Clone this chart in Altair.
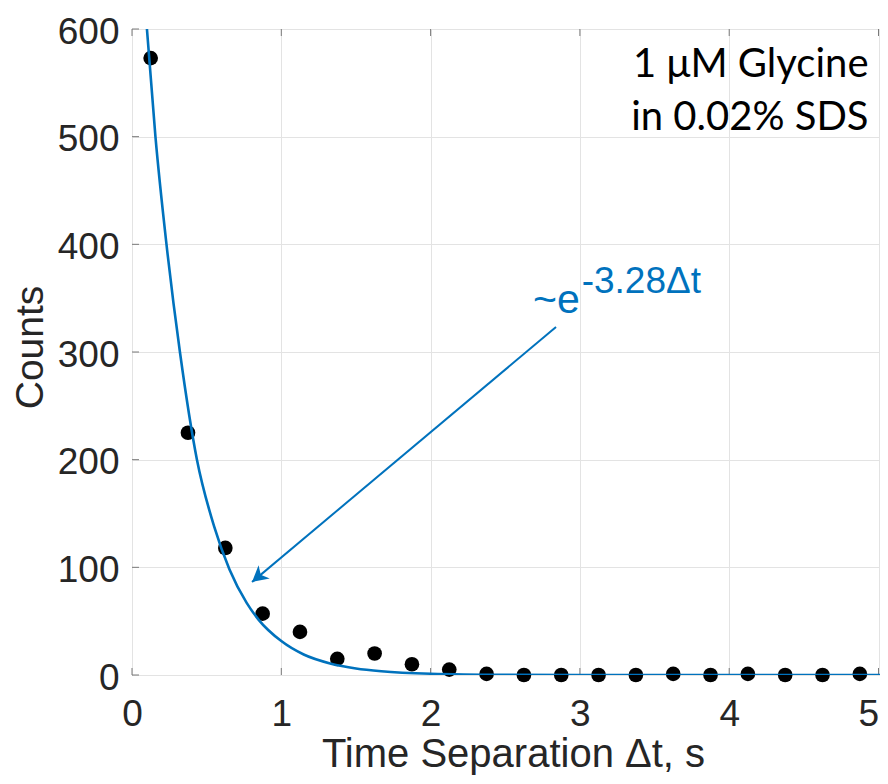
import altair as alt
import pandas as pd

# ---- data ----
bin_centers = [0.125, 0.375, 0.625, 0.875, 1.125, 1.375, 1.625, 1.875, 2.125, 2.375,
               2.625, 2.875, 3.125, 3.375, 3.625, 3.875, 4.125, 4.375, 4.625, 4.875]
counts = [573, 225, 118, 57, 40, 15, 20, 10, 5, 1, 0, 0, 0, 0, 1, 0, 1, 0, 0, 1]

# fitted curve (~e^-3.28 dt)
fit_x = [0.100, 0.157, 0.231, 0.321, 0.435, 0.55, 0.653, 0.768, 0.85, 1.0,
         1.15, 1.333, 1.5, 1.67, 2.0, 2.5, 3.0, 4.0, 5.1]
fit_y = [600, 500, 400, 300, 200, 138, 98, 67, 51, 31.5,
         19, 10.5, 6.1, 3.5, 1.2, 0.2, 0, 0, 0]

# arrow from the label to the curve
arrow_x = [2.840, 0.804]
arrow_y = [323.2, 86.4]

# annotation texts
box_lines = ["1 μM Glycine", "in 0.02% SDS"]
box_x = [4.933, 4.933]
box_y = [555.4, 506.0]

fit_main = "~e"
fit_sup = "-3.28Δt"
fit_main_xy = (2.999, 336.0)
fit_sup_xy = (3.012, 354.8)

x_ticks = [0, 1, 2, 3, 4, 5]
y_ticks = [0, 100, 200, 300, 400, 500, 600]

BLUE = "#0072BD"
TXT = "#262626"
AX = "#7a7a7a"

xs = alt.Scale(domain=[0, 5.01], nice=False, zero=False)
ys = alt.Scale(domain=[0, 600], nice=False)

xax = alt.Axis(values=x_ticks, title="Time Separation Δt, s")
yax = alt.Axis(values=y_ticks, title="Counts")


def X(f="x"):
    return alt.X(f"{f}:Q", scale=xs, axis=xax)


def Y(f="y"):
    return alt.Y(f"{f}:Q", scale=ys, axis=yax)


dots_df = pd.DataFrame({"x": bin_centers, "y": counts})
fit_df = pd.DataFrame({"x": fit_x, "y": fit_y})
arrow_df = pd.DataFrame({"x": arrow_x, "y": arrow_y})
head_df = pd.DataFrame({"x": [arrow_x[1]], "y": [arrow_y[1]]})
box_df = pd.DataFrame({"x": box_x, "y": box_y, "label": box_lines})
main_df = pd.DataFrame({"x": [fit_main_xy[0]], "y": [fit_main_xy[1]], "label": [fit_main]})
sup_df = pd.DataFrame({"x": [fit_sup_xy[0]], "y": [fit_sup_xy[1]], "label": [fit_sup]})
xt_df = pd.DataFrame({"x": x_ticks})
yt_df = pd.DataFrame({"y": y_ticks})

dots = alt.Chart(dots_df).mark_circle(size=215, color="black", opacity=1).encode(x=X(), y=Y())

fit = alt.Chart(fit_df).mark_line(color=BLUE, strokeWidth=2.6, interpolate="monotone", clip=True).encode(
    x=X(), y=Y())

arrow = alt.Chart(arrow_df).mark_line(color=BLUE, strokeWidth=2).encode(x=X(), y=Y())

head = alt.Chart(head_df).mark_point(
    shape="M0,0 L-0.55,1 L0,0.72 L0.55,1 Z",
    size=1000, filled=True, color=BLUE, opacity=1, angle=230, strokeWidth=0
).encode(x=X(), y=Y())

box_text = alt.Chart(box_df).mark_text(
    font="Lato", fontSize=40, color="black", align="right", baseline="alphabetic"
).encode(x=X(), y=Y(), text="label:N")

main_text = alt.Chart(main_df).mark_text(
    font="Liberation Sans", fontSize=41, color=BLUE, align="right", baseline="alphabetic"
).encode(x=X(), y=Y(), text="label:N")

sup_text = alt.Chart(sup_df).mark_text(
    font="Liberation Sans", fontSize=37, color=BLUE, align="left", baseline="alphabetic"
).encode(x=X(), y=Y(), text="label:N")

# inward tick marks (MATLAB style box)
bt = alt.Chart(xt_df).mark_rule(color=AX, strokeWidth=1).encode(
    x=X(), y=alt.value(646), y2=alt.value(639))
tt = alt.Chart(xt_df).mark_rule(color=AX, strokeWidth=1).encode(
    x=X(), y=alt.value(0), y2=alt.value(7))
lt = alt.Chart(yt_df).mark_rule(color=AX, strokeWidth=1).encode(
    y=Y(), x=alt.value(0), x2=alt.value(7))

chart = alt.layer(bt, tt, lt, dots, fit, arrow, head, box_text, main_text, sup_text).properties(
    width=748, height=646,
    padding={"left": 124, "top": 21, "right": 0, "bottom": 100},
    autosize=alt.AutoSizeParams(type="none"),
).configure_view(
    stroke=AX, strokeWidth=1
).configure_axis(
    domain=False, ticks=False, grid=True, gridColor="#e3e3e3", gridWidth=1,
    labelFont="Liberation Sans", labelFontSize=37, labelColor=TXT,
    titleFont="Liberation Sans", titleFontWeight="normal", titleColor=TXT,
    labelFlush=False, labelOverlap=False,
).configure_axisX(
    labelPadding=50, labelBaseline="alphabetic",
    labelAlign={"condition": {"test": "datum.value >= 5", "value": "right"}, "value": "center"},
    titleFontSize=40, titleX=381, titleY=91, titleAlign="center", titleBaseline="alphabetic",
    titleAngle=0,
).configure_axisY(
    labelPadding=13, labelAlign="right", labelBaseline="middle", labelOffset=3,
    titleFontSize=39, titleAngle=270, titleX=-90, titleY=318, titleAlign="center",
    titleBaseline="alphabetic",
)

chart.save("out.html", embed_options={"renderer": "svg", "actions": False})
